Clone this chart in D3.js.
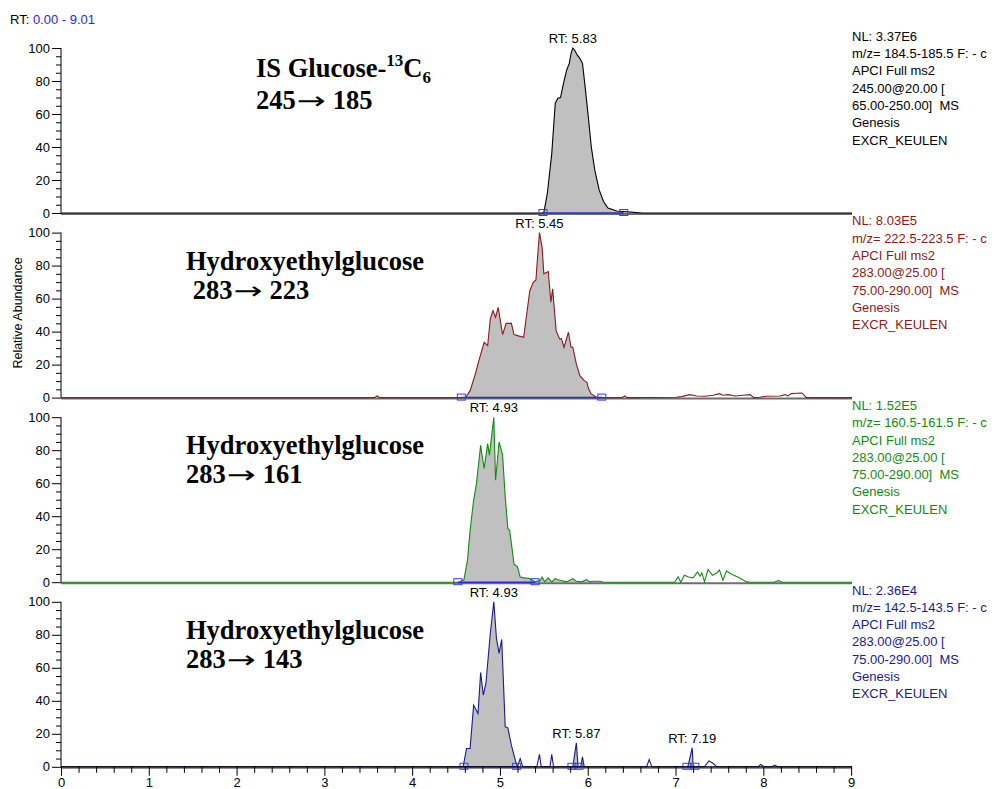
<!DOCTYPE html>
<html>
<head>
<meta charset="utf-8">
<script src="https://cdn.jsdelivr.net/npm/d3@7"></script>
<style>
  body { margin: 0; background: #fff; }
  svg text { font-family: "Liberation Sans", Arial, sans-serif; white-space: pre; }
  .big { font-family: "Liberation Serif", "Times New Roman", serif !important; font-weight: bold; font-size: 26.5px; }
  .arrow { font-family: "DejaVu Sans", sans-serif !important; font-weight: normal; font-size: 24px; }
</style>
</head>
<body>
<script>
const rtRange = [0, 9.01]
const xTicks = d3.range(0, 10)
const yTicks = [0, 20, 40, 60, 80, 100]

// traces: [retention time (min), relative abundance (%)]
const trace245 = [[0,0],[5.48,0],[5.50,0.3],[5.54,12],[5.59,36],[5.63,66.5],[5.66,69.5],[5.69,70],[5.72,77.6],[5.76,86.7],[5.79,90.7],[5.81,96.8],[5.83,100],[5.85,98.8],[5.88,95.8],[5.91,93.7],[5.94,90.7],[5.97,76.6],[6.01,56.4],[6.04,40.2],[6.08,26],[6.13,14],[6.18,7],[6.23,3],[6.33,1.2],[6.44,0.8],[6.56,0.2],[6.62,0],[9.01,0]]

const trace223 = [[0,0],[3.57,0],[3.60,1],[3.63,0],[4.54,0],[4.61,0.2],[4.66,4.2],[4.72,14.4],[4.76,22.4],[4.82,33.5],[4.86,31.5],[4.89,47.7],[4.92,52.7],[4.95,48.7],[4.98,54.7],[5.03,38.2],[5.07,45],[5.13,45],[5.16,38.2],[5.21,37.4],[5.27,36.6],[5.30,48.7],[5.34,64.8],[5.38,69.9],[5.41,71.3],[5.42,79],[5.45,100],[5.48,91.1],[5.50,75],[5.55,76.4],[5.58,57.8],[5.60,65.9],[5.64,40.6],[5.68,35.6],[5.70,35.6],[5.73,30.5],[5.78,39.6],[5.81,30.5],[5.83,30.5],[5.87,20.4],[5.91,13.3],[5.96,10.3],[5.99,9.3],[6.01,5.3],[6.04,2.2],[6.10,0.2],[6.13,0],[6.39,0],[6.42,1],[6.45,0],[7.01,0.2],[7.07,0.6],[7.16,1.8],[7.24,1],[7.33,0.8],[7.43,1.4],[7.50,2.4],[7.54,1.4],[7.60,1.8],[7.68,1],[7.77,1.4],[7.85,1.8],[7.89,0],[7.96,0.2],[8.03,0.8],[8.19,1],[8.25,1.8],[8.28,1],[8.32,2.4],[8.38,2.6],[8.44,2.8],[8.49,0],[9.01,0]]

const trace161 = [[0,0],[4.54,0],[4.59,1.6],[4.63,13.3],[4.66,31.5],[4.70,49.7],[4.73,58.8],[4.78,83],[4.82,68.9],[4.86,84],[4.88,77],[4.93,100],[4.95,61.8],[4.99,85],[5.03,77],[5.06,51.7],[5.09,32.5],[5.11,31.5],[5.14,19.4],[5.16,10.9],[5.20,9.3],[5.23,3.2],[5.28,2.6],[5.34,2.2],[5.40,0.2],[5.46,1.2],[5.48,3.2],[5.51,0.2],[5.55,2.6],[5.59,0.2],[5.63,2.2],[5.68,1.2],[5.76,0.2],[5.83,2.2],[5.87,0.6],[5.93,0.2],[5.99,1.6],[6.02,0.2],[6.06,0.6],[6.14,0.6],[6.18,0],[6.99,0],[7.03,3.2],[7.06,0],[7.10,4.2],[7.15,3.2],[7.20,2.6],[7.25,6.2],[7.28,3.6],[7.30,5.6],[7.33,0.2],[7.37,7.7],[7.42,4.2],[7.47,5.6],[7.50,7.3],[7.54,1.2],[7.58,6.8],[7.64,4.8],[7.72,2.8],[7.81,0.2],[7.85,0],[8.12,0],[8.17,1],[8.22,0],[9.01,0]]

const trace143 = [[0,0],[4.58,0],[4.62,11.1],[4.66,11.1],[4.70,37.4],[4.75,32.3],[4.78,57.2],[4.81,43.5],[4.84,50.5],[4.89,80.8],[4.93,100],[4.96,77.8],[4.99,68.7],[5.02,77.2],[5.06,24.2],[5.09,23.6],[5.13,13.1],[5.18,3],[5.20,0],[5.23,5],[5.26,0],[5.42,0],[5.45,7.5],[5.47,0],[5.57,0],[5.59,7.5],[5.61,0],[5.83,0],[5.87,14.5],[5.89,0],[5.92,0],[5.94,6],[5.96,0],[6.67,0],[6.70,4.4],[6.73,0],[7.14,0],[7.19,11.5],[7.20,1],[7.22,0],[7.33,0],[7.38,3.6],[7.43,2],[7.47,0],[7.94,0],[7.97,1.4],[8.01,0],[8.10,0],[8.13,1],[8.16,0],[9.01,0]]

const traces = [trace245, trace223, trace161, trace143]
const traceColors = ['#000000', '#8b1a1a', '#138a13', '#1a1a8a']

// shaded (integrated) ranges and peak boundary markers
const shaded = [[[5.48, 6.62]], [[4.54, 6.13]], [[4.54, 6.18], [8.12, 8.22]], [[4.58, 5.20], [5.83, 5.96], [7.14, 7.22]]]
const peakBounds = [[[5.49, 6.41]], [[4.56, 6.16]], [[4.52, 5.40]], [[4.59, 5.19], [5.82, 5.90], [7.13, 7.22]]]
const rtLabels = [[5.83], [5.45], [4.93], [4.93, 5.87, 7.19]]

const headerLines = [
  ['NL: 3.37E6', 'm/z= 184.5-185.5 F: - c', 'APCI Full ms2', '245.00@20.00 [', '65.00-250.00]  MS', 'Genesis', 'EXCR_KEULEN'],
  ['NL: 8.03E5', 'm/z= 222.5-223.5 F: - c', 'APCI Full ms2', '283.00@25.00 [', '75.00-290.00]  MS', 'Genesis', 'EXCR_KEULEN'],
  ['NL: 1.52E5', 'm/z= 160.5-161.5 F: - c', 'APCI Full ms2', '283.00@25.00 [', '75.00-290.00]  MS', 'Genesis', 'EXCR_KEULEN'],
  ['NL: 2.36E4', 'm/z= 142.5-143.5 F: - c', 'APCI Full ms2', '283.00@25.00 [', '75.00-290.00]  MS', 'Genesis', 'EXCR_KEULEN']
]
// precursor -> product ions
const transitions = [['245', '185'], [' 283', '223'], ['283', '161'], ['283', '143']]

const W = 994, H = 789
const panelTop = 48, panelStep = 184.6, panelH = 165

const svg = d3.select('body').append('svg').attr('width', W).attr('height', H)
const x = d3.scaleLinear().domain(rtRange).range([61, 852])

svg.append('text').attr('x', 10).attr('y', 24).attr('font-size', 13)
  .call(t => { t.append('tspan').text('RT: '); t.append('tspan').attr('fill', '#2a2acc').text('0.00 - 9.01') })

svg.append('text').attr('transform', 'translate(22,313) rotate(-90)')
  .attr('text-anchor', 'middle').attr('font-size', 12.5).text('Relative Abundance')

// "283→ 223": serif numbers with a long thin arrow between them
function transitionText(g, tx, ty, pair) {
  const first = g.append('text').attr('class', 'big').attr('x', tx).attr('y', ty).text(pair[0])
  const ax = tx + first.node().getComputedTextLength() + 1
  g.append('text').attr('class', 'arrow').attr('x', ax).attr('y', ty)
    .attr('textLength', 29).attr('lengthAdjust', 'spacingAndGlyphs').text('\u2192')
  g.append('text').attr('class', 'big').attr('x', ax + 36).attr('y', ty).text(pair[1])
}

traces.forEach((data, i) => {
  const top = panelTop + i * panelStep
  const base = top + panelH
  const y = d3.scaleLinear().domain([0, 100]).range([base, top])
  const color = traceColors[i]
  const g = svg.append('g')

  // shaded peak areas
  const area = d3.area().x(d => x(d[0])).y0(base).y1(d => y(d[1]))
  shaded[i].forEach(([a, b]) => {
    g.append('path').datum(data.filter(d => d[0] >= a && d[0] <= b))
      .attr('d', area).attr('fill', '#c0c0c0')
  })

  // gray base line
  g.append('line').attr('x1', x(0)).attr('x2', x(rtRange[1])).attr('y1', base + 1).attr('y2', base + 1)
    .attr('stroke', '#6e6e6e').attr('stroke-width', 2)

  // y axis
  const yMinor = d3.axisLeft(y).tickValues(d3.range(0, 101, 5).filter(v => v % 20)).tickSize(5).tickFormat('')
  g.append('g').attr('transform', `translate(${x(0)},0)`).call(yMinor)
    .call(a => a.select('.domain').remove())
  g.append('g').attr('transform', `translate(${x(0)},0)`)
    .call(d3.axisLeft(y).tickValues(yTicks).tickSize(9).tickPadding(2))
    .call(a => a.select('.domain').attr('d', `M0,${top}V${base}`))
    .call(a => a.selectAll('text').attr('font-size', 13).attr('font-family', 'Liberation Sans, Arial, sans-serif'))

  // trace
  g.append('path').datum(data)
    .attr('d', d3.line().x(d => x(d[0])).y(d => y(d[1])))
    .attr('fill', 'none').attr('stroke', color).attr('stroke-width', 1.1)

  // peak boundary markers
  peakBounds[i].forEach(([a, b]) => {
    g.append('line').attr('x1', x(a)).attr('x2', x(b)).attr('y1', base).attr('y2', base)
      .attr('stroke', '#2b2bdd').attr('stroke-width', 1.5)
    ;[a, b].forEach(v => {
      g.append('rect').attr('x', x(v) - 4).attr('y', base - 3.5).attr('width', 8).attr('height', 6)
        .attr('fill', 'none').attr('stroke', '#3a3aff').attr('stroke-width', 1)
    })
  })

  // RT labels
  rtLabels[i].forEach(rt => {
    const apex = data.reduce((p, d) => Math.abs(d[0] - rt) < Math.abs(p[0] - rt) ? d : p)
    g.append('text').attr('x', x(rt)).attr('y', y(apex[1]) - 5)
      .attr('text-anchor', 'middle').attr('font-size', 13).text(`RT: ${rt.toFixed(2)}`)
  })

  // header on the right
  headerLines[i].forEach((line, k) => {
    g.append('text').attr('x', 852).attr('y', top - 7.3 + k * 17.3)
      .attr('font-size', 13).attr('fill', color).text(line)
  })

  // compound annotation
  if (i === 0) {
    const t = g.append('text').attr('class', 'big').attr('x', 256).attr('y', top + 29)
    t.append('tspan').text('IS Glucose-')
    t.append('tspan').attr('font-size', 17).attr('dy', -11).text('13')
    t.append('tspan').attr('dy', 11).text('C')
    t.append('tspan').attr('font-size', 17).attr('dy', 6).text('6')
    transitionText(g, 256, top + 61, transitions[i])
  } else {
    g.append('text').attr('class', 'big').attr('x', 186).attr('y', top + 37).text('Hydroxyethylglucose')
    transitionText(g, 186, top + 66, transitions[i])
  }

  // x axis under the last panel
  if (i === traces.length - 1) {
    g.append('g').attr('transform', `translate(0,${base})`)
      .call(d3.axisBottom(x).tickValues(d3.range(0, 9.01, 0.2).filter(v => Math.abs(v - Math.round(v)) > 0.01)).tickSize(6).tickFormat(''))
      .call(a => a.select('.domain').remove())
    g.append('g').attr('transform', `translate(0,${base})`)
      .call(d3.axisBottom(x).tickValues(xTicks).tickSize(9).tickPadding(2).tickFormat(d3.format('d')))
      .call(a => a.select('.domain').attr('d', `M${x(0)},0H${x(rtRange[1])}`))
      .call(a => a.selectAll('text').attr('font-size', 13).attr('font-family', 'Liberation Sans, Arial, sans-serif'))
  }
})
</script>
</body>
</html>
